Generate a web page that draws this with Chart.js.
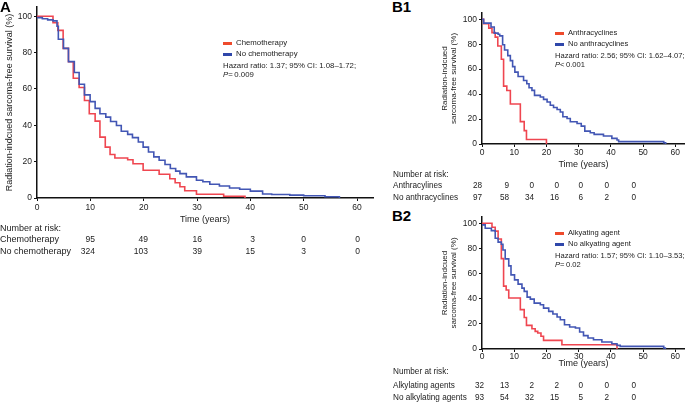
<!DOCTYPE html>
<html>
<head>
<meta charset="utf-8">
<script src="https://cdn.jsdelivr.net/npm/chart.js@4.4.0/dist/chart.umd.min.js"></script>
<style>
  body { margin: 0; width: 685px; height: 406px; position: relative; overflow: hidden; background: #fff;
         font-family: 'Liberation Sans', Arial, sans-serif; color: #222; }
  canvas { position: absolute; }
  .t { position: absolute; white-space: nowrap; line-height: 10px; font-size: 9px; }
  .sw { position: absolute; width: 9px; height: 3px; }
  .panel { position: absolute; font-weight: bold; font-size: 15px; line-height: 15px; color: #000; }
</style>
</head>
<body>
<canvas id="chartA" width="380" height="226" style="left:0;top:0"></canvas>
<canvas id="chartB1" width="249" height="171" style="left:436px;top:0"></canvas>
<canvas id="chartB2" width="249" height="165" style="left:436px;top:205px"></canvas>
<div class="panel" style="left:0;top:-1px">A</div>
<div class="panel" style="left:392px;top:-1px">B1</div>
<div class="panel" style="left:392px;top:208px">B2</div>
<script>
// Panel A: chemotherapy vs none (time in years, survival in %)
const chemoT   = [0, 3.0, 3.9, 4.9, 5.9, 6.8, 7.9, 8.9, 9.8, 10.9, 11.8, 12.8, 13.7, 14.6, 17.0, 18.0, 19.9, 22.9, 24.9, 25.9, 26.8, 27.7, 29.9, 35.0, 39.0];
const chemoS   = [100, 96.4, 92.2, 82.3, 74.9, 65.9, 60.8, 53.6, 46.3, 42.3, 33.5, 28.0, 23.9, 22.0, 21.0, 18.8, 15.3, 13.1, 10.6, 8.4, 6.2, 4.0, 2.1, 1.0, 0];
const noChemoT = [0, 1.0, 2.0, 3.0, 3.75, 4.0, 4.97, 5.9, 7.0, 7.9, 8.9, 9.96, 10.9, 11.8, 12.9, 13.8, 14.9, 15.8, 17.0, 17.9, 19.0, 19.9, 20.9, 21.9, 22.9, 24.0, 25.0, 26.0, 26.8, 28.0, 29.9, 31.1, 32.4, 34.2, 36.1, 38.0, 40.0, 42.3, 44.0, 47.4, 50.0, 54.0, 56.7];
const noChemoS = [99.2, 98.6, 98.0, 97.4, 94.5, 87.3, 82.3, 75.0, 69.0, 62.6, 56.7, 53.0, 49.3, 46.3, 44.5, 42.1, 39.9, 36.7, 35.0, 33.2, 30.8, 28.0, 25.3, 22.6, 20.8, 18.4, 16.2, 14.8, 13.4, 11.6, 9.8, 8.9, 7.6, 6.6, 5.5, 4.8, 3.8, 2.2, 1.9, 1.6, 1.2, 0.7, 0];

// Panel B1: anthracyclines
const anthraT   = [0, 0.5, 2.1, 3.1, 4.1, 4.9, 6.0, 6.7, 7.7, 8.8, 11.9, 13.1, 13.8, 20.0];
const anthraS   = [100, 96.4, 92.9, 89.3, 85.7, 78.6, 67.9, 46.4, 42.9, 32.1, 17.9, 10.7, 3.6, 0];
const noAnthraT = [0, 0.5, 2.8, 3.8, 5.0, 5.5, 6.4, 7.0, 8.0, 8.8, 9.5, 10.2, 11.2, 12.9, 13.9, 14.6, 15.5, 16.3, 18.1, 19.1, 20.2, 21.2, 22.2, 23.3, 24.3, 25.1, 26.4, 27.4, 29.5, 30.8, 31.9, 33.6, 34.8, 37.7, 40.3, 41.9, 42.4, 56.4, 57.0];
const noAnthraS = [100, 96.9, 93.8, 88.9, 88.0, 86.7, 79.6, 75.3, 70.8, 66.8, 62.0, 57.6, 54.1, 50.9, 48.3, 45.1, 43.0, 39.0, 37.7, 35.8, 33.7, 31.0, 29.2, 27.6, 25.7, 21.8, 20.4, 17.8, 16.4, 14.3, 10.3, 9.0, 7.7, 6.4, 4.5, 3.2, 1.9, 1.0, 0];

// Panel B2: alkylating agents
const alkyT   = [0, 3.1, 4.1, 5.0, 6.0, 6.7, 7.5, 8.3, 11.9, 13.1, 13.8, 15.5, 16.5, 17.3, 18.3, 19.1, 24.8, 41.9];
const alkyS   = [100, 96.9, 93.8, 87.5, 71.9, 50.0, 46.9, 40.6, 31.3, 25.0, 18.8, 16.1, 14.0, 12.7, 10.1, 6.9, 3.4, 0];
const noAlkyT = [0, 1.0, 2.9, 4.1, 5.0, 6.0, 6.5, 7.2, 8.3, 9.0, 10.1, 11.2, 12.4, 13.1, 14.0, 15.0, 16.2, 18.1, 19.1, 20.7, 22.0, 23.3, 24.3, 25.6, 27.2, 29.0, 30.3, 31.5, 32.9, 34.6, 37.2, 40.3, 41.9, 42.9, 56.4, 56.9];
const noAlkyS = [98.7, 96.0, 94.2, 88.1, 85.0, 83.3, 78.8, 71.7, 66.1, 59.0, 55.0, 51.6, 48.4, 45.8, 41.3, 39.7, 36.5, 35.2, 32.5, 29.9, 27.8, 25.4, 23.3, 19.3, 17.5, 16.7, 13.5, 10.6, 8.7, 7.4, 5.6, 4.2, 2.9, 2.1, 0.8, 0];

// numbers at risk
const riskChemo    = [95, 49, 16, 3, 0, 0];
const riskNoChemo  = [324, 103, 39, 15, 3, 0];
const riskAnthra   = [28, 9, 0, 0, 0, 0, 0];
const riskNoAnthra = [97, 58, 34, 16, 6, 2, 0];
const riskAlky     = [32, 13, 2, 2, 0, 0, 0];
const riskNoAlky   = [93, 54, 32, 15, 5, 2, 0];

const RED = '#ef4650';
const BLUE = '#4256b4';

function pts(t, s) {
  return t.map((v, i) => ({ x: v, y: s[i] }));
}

function kmChart(id, series, o) {
  const ctx = document.getElementById(id).getContext('2d');
  return new Chart(ctx, {
    type: 'line',
    data: {
      datasets: series.map(d => ({
        data: pts(d.t, d.s),
        borderColor: d.color,
        borderWidth: 1.6,
        stepped: 'before',
        pointRadius: 0,
        fill: false
      }))
    },
    options: {
      responsive: false,
      animation: false,
      layout: { padding: { top: o.padTop, right: o.padRight, left: 0, bottom: 0 } },
      plugins: { legend: { display: false }, tooltip: { enabled: false } },
      scales: {
        x: {
          type: 'linear', min: 0, max: 63,
          border: { display: true, color: '#111', width: 1.5 },
          grid: { drawOnChartArea: false, drawTicks: true, tickLength: 3, color: '#111' },
          ticks: { stepSize: 10, includeBounds: false, maxRotation: 0, padding: o.xPad, color: '#222',
                   font: { family: 'Liberation Sans', size: 8.5 } },
          title: { display: true, text: 'Time (years)', color: '#222', padding: { top: 0, bottom: 0.6 },
                   font: { family: 'Liberation Sans', size: 9, lineHeight: 1.2 } },
          afterFit: s => { s.height = o.xh; }
        },
        y: {
          min: 0, max: 105,
          border: { display: true, color: '#111', width: 1.5 },
          grid: { drawOnChartArea: false, drawTicks: true, tickLength: 3, color: '#111' },
          ticks: { stepSize: 20, includeBounds: false, padding: 2, color: '#222',
                   font: { family: 'Liberation Sans', size: 8.5 } },
          title: { display: true, text: o.yTitle, color: '#222', padding: { top: o.yTitlePad, bottom: 0 },
                   font: { family: 'Liberation Sans', size: o.yTitleSize, lineHeight: o.yTitleLH } },
          afterFit: s => { s.width = o.yw; }
        }
      }
    }
  });
}

function put(html, x, y, size, right) {
  const d = document.createElement('div');
  d.className = 't';
  d.innerHTML = html;
  d.style.left = x + 'px';
  d.style.top = (y - 5) + 'px';
  if (size) d.style.fontSize = size + 'px';
  if (right) d.style.transform = 'translateX(-100%)';
  document.body.appendChild(d);
}

function swatch(x, y, color) {
  const d = document.createElement('div');
  d.className = 'sw';
  d.style.left = x + 'px';
  d.style.top = (y - 1.5) + 'px';
  d.style.background = color;
  document.body.appendChild(d);
}

function legend(x, y, names, hr, p, size) {
  swatch(x, y, '#ee4a2c');
  put(names[0], x + 13, y, size);
  swatch(x, y + 11, '#2f47aa');
  put(names[1], x + 13, y + 11, size);
  put(hr, x, y + 23, size);
  put('<i>P</i>' + p, x, y + 32, size);
}

function riskTable(x, y, rows, labels, cols, size, numSize, gap, step) {
  put('Number at risk:', x, y, size);
  rows.forEach((r, i) => {
    const yy = y + gap + i * step;
    put(labels[i], x, yy, size);
    r.forEach((n, j) => put(String(n), cols[j], yy, numSize, true));
  });
}

kmChart('chartA', [
  { t: noChemoT, s: noChemoS, color: BLUE },
  { t: chemoT, s: chemoS, color: RED }
], { padTop: 6, padRight: 7, xh: 28, yw: 37, xPad: 2, yTitle: 'Radiation-indcued sarcoma-free survival (%)',
     yTitlePad: 4.6, yTitleSize: 9, yTitleLH: 1.2 });

kmChart('chartB1', [
  { t: noAnthraT, s: noAnthraS, color: BLUE },
  { t: anthraT, s: anthraS, color: RED }
], { padTop: 13, padRight: 0, xh: 27, yw: 46, xPad: 1, yTitle: ['Radiation-indcued', 'sarcoma-free survival (%)'],
     yTitlePad: 4.8, yTitleSize: 8, yTitleLH: 1.05 });

kmChart('chartB2', [
  { t: noAlkyT, s: noAlkyS, color: BLUE },
  { t: alkyT, s: alkyS, color: RED }
], { padTop: 12, padRight: 0, xh: 21, yw: 46, xPad: 0, yTitle: ['Radiation-indcued', 'sarcoma-free survival (%)'],
     yTitlePad: 4.8, yTitleSize: 8, yTitleLH: 1.05 });

legend(223, 43, ['Chemotherapy', 'No chemotherapy'], 'Hazard ratio: 1.37; 95% CI: 1.08–1.72;', '=&#8201;0.009', 7.8);
legend(555, 33, ['Anthracyclines', 'No anthracyclines'], 'Hazard ratio: 2.56; 95% CI: 1.62–4.07;', '&lt;&#8201;0.001', 7.6);
legend(555, 233, ['Alkyating agent', 'No alkyating agent'], 'Hazard ratio: 1.57; 95% CI: 1.10–3.53;', '=&#8201;0.02', 7.6);

riskTable(0, 228, [riskChemo, riskNoChemo], ['Chemotherapy', 'No chemotherapy'],
          [95, 148, 202, 255, 306, 360], 9, 8.5, 11, 11.5);
riskTable(393, 175, [riskAnthra, riskNoAnthra], ['Anthracylines', 'No anthracyclines'],
          [482, 509, 534, 559, 583, 609, 636], 8.2, 8.2, 11, 11.5);
riskTable(393, 372, [riskAlky, riskNoAlky], ['Alkylating agents', 'No alkylating agents'],
          [484, 509, 534, 559, 583, 609, 636], 8.2, 8.2, 14, 12);
</script>
</body>
</html>
